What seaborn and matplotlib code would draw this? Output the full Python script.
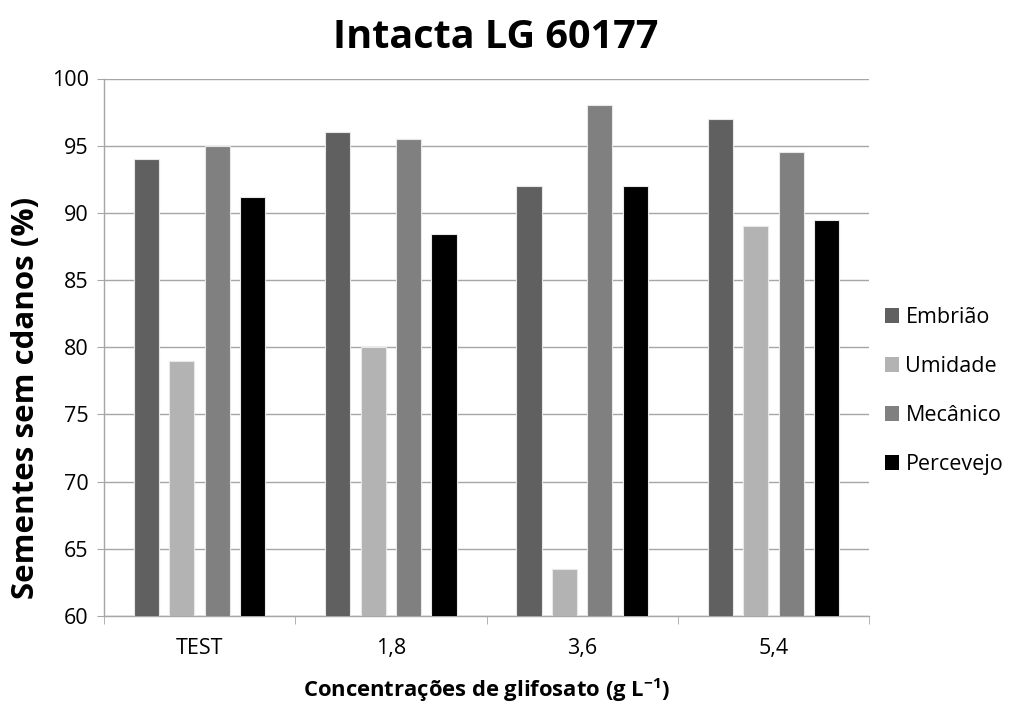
import matplotlib
matplotlib.use("Agg")
import matplotlib.pyplot as plt
import seaborn as sns
import pandas as pd
from matplotlib.ticker import FixedLocator, NullFormatter
from matplotlib.patches import Patch

categories = ["TEST", "1,8", "3,6", "5,4"]
series = ["Embrião", "Umidade", "Mecânico", "Percevejo"]
embriao = [94, 96, 92, 97]
umidade = [79, 80, 63.5, 89]
mecanico = [95, 95.5, 98, 94.5]
percevejo = [91.2, 88.4, 92, 89.5]
colors = ["#606060", "#b3b3b3", "#808080", "#000000"]

rows = []
for name, vals in zip(series, [embriao, umidade, mecanico, percevejo]):
    for c, v in zip(categories, vals):
        rows.append({"cat": c, "serie": name, "val": v})
df = pd.DataFrame(rows)

sns.set_style("white")
plt.rcParams["font.family"] = ["Open Sans", "DejaVu Sans"]
plt.rcParams["text.color"] = "black"
plt.rcParams["axes.labelcolor"] = "black"
plt.rcParams["xtick.color"] = "black"
plt.rcParams["ytick.color"] = "black"

fig = plt.figure(figsize=(10.09, 7.06), dpi=100)
ax = fig.add_axes([104/1009, 1-616/706, (869-104)/1009, (616-78.5)/706])

sns.barplot(data=df, x="cat", y="val", hue="serie", order=categories,
            hue_order=series, palette=colors, width=0.74, gap=0.29,
            edgecolor="#e8e8e8", linewidth=0.8, ax=ax, legend=False, zorder=3)

ax.set_ylim(60, 100)
ax.set_xlim(-0.5, 3.5)
ax.set_yticks(range(60, 101, 5))
ax.yaxis.grid(True, color="#a6a6a6", linewidth=1.0, zorder=0)
ax.set_axisbelow(True)
for s in ["top", "right"]:
    ax.spines[s].set_visible(False)
for s in ["left", "bottom"]:
    ax.spines[s].set_color("#a6a6a6")
    ax.spines[s].set_linewidth(1.0)

ax.tick_params(axis="y", labelsize=15.5, length=5, color="#a6a6a6", labelcolor="black", direction="out", left=True, pad=6)
ax.tick_params(axis="x", which="major", labelsize=15.5, length=0, labelcolor="black", pad=16)
ax.xaxis.set_minor_locator(FixedLocator([-0.5, 0.5, 1.5, 2.5, 3.5]))
ax.xaxis.set_minor_formatter(NullFormatter())
ax.tick_params(axis="x", which="minor", length=6, color="#a6a6a6", direction="out", bottom=True)

ax.set_xlabel("Concentrações de glifosato (g L$^{\\mathregular{-1}}$)", fontsize=15.8, fontweight="bold", labelpad=12)
ax.set_ylabel("Sementes sem cdanos (%)", fontsize=22.5, fontweight="bold")
ax.yaxis.set_label_coords(-0.082, 0.405)
fig.text(496/1009, 1-37/706, "Intacta LG 60177", ha="center", va="center", fontsize=28.5, fontweight="bold")

handles = [Patch(facecolor=c, edgecolor="none") for c in colors]
fig.legend(handles, series, loc="center left", bbox_to_anchor=(885/1009, 1-391/706),
           frameon=False, fontsize=15.5, handlelength=0.65, handleheight=0.65,
           labelspacing=1.3, handletextpad=0.3, borderpad=0, borderaxespad=0)

fig.savefig("out.png", dpi=100)
